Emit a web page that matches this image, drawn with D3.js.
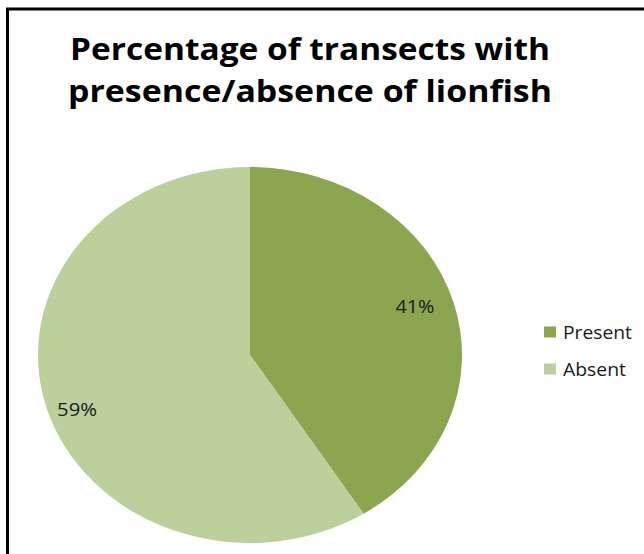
<!DOCTYPE html>
<html>
<head>
<meta charset="utf-8">
<script src="https://cdn.jsdelivr.net/npm/d3@7"></script>
<style>
  html, body { margin: 0; padding: 0; background: #fff; }
  svg { display: block; }
</style>
</head>
<body>
<svg id="chart" width="644" height="554"></svg>
<script>
// Lionfish survey: share of transects with lionfish present vs absent
const categories = ["Present", "Absent"];
const values = [41, 59];
const colors = ["#8aa64f", "#bbd09a"];
const titleLines = ["Percentage of transects with", "presence/absence of lionfish"];

const svg = d3.select("#chart");
const W = 644, H = 554;
const font = "'Open Sans', 'DejaVu Sans', sans-serif";

// Chart frame (top and left edges visible)
svg.append("path")
  .attr("d", `M7.5,${H} L7.5,9 L${W},9`)
  .attr("fill", "none")
  .attr("stroke", "#000")
  .attr("stroke-width", 3);

// Scale a text node horizontally so it spans a given width
function fitWidth(sel, width) {
  const len = sel.node().getComputedTextLength();
  const x = +sel.attr("x");
  const anchor = sel.attr("text-anchor") || "start";
  const k = width / len;
  const ox = anchor === "middle" ? x : x;
  sel.attr("transform", `translate(${ox},0) scale(${k},1) translate(${-ox},0)`);
}

// Title
titleLines.forEach((t, i) => {
  const tx = svg.append("text")
    .attr("x", 310)
    .attr("y", 60 + i * 42)
    .attr("text-anchor", "middle")
    .attr("font-family", font)
    .attr("font-weight", 700)
    .attr("font-size", 31)
    .attr("fill", "#000")
    .text(t);
  fitWidth(tx, i === 0 ? 480 : 484);
});

// Pie (elliptical: circle squashed vertically)
const cx = 250, cy = 355, rx = 212, ry = 188;
const pie = d3.pie().sort(null).value(d => d)(values);
const arc = d3.arc().innerRadius(0).outerRadius(rx);

const g = svg.append("g")
  .attr("transform", `translate(${cx},${cy}) scale(1,${ry / rx})`);

g.selectAll("path")
  .data(pie)
  .join("path")
  .attr("d", arc)
  .attr("fill", (d, i) => colors[i]);

// Percent labels
const labelArc = d3.arc().innerRadius(rx * 0.81).outerRadius(rx * 0.81);
const labelOffsets = [[0, -6], [-8, 11]];
const labelWidths = [39, 40];
svg.append("g")
  .selectAll("text")
  .data(pie)
  .join("text")
  .attr("x", (d, i) => cx + labelArc.centroid(d)[0] + labelOffsets[i][0])
  .attr("y", (d, i) => cy + labelArc.centroid(d)[1] * (ry / rx) + labelOffsets[i][1])
  .attr("text-anchor", "middle")
  .attr("dominant-baseline", "central")
  .attr("font-family", font)
  .attr("font-size", 18)
  .attr("fill", "#1a1a1a")
  .text((d, i) => values[i] + "%")
  .each(function (d, i) { fitWidth(d3.select(this), labelWidths[i]); });

// Legend
const legendWidths = [69, 63];
const legend = svg.append("g").attr("transform", "translate(544,332)");
const items = legend.selectAll("g")
  .data(categories)
  .join("g")
  .attr("transform", (d, i) => `translate(0,${i * 37})`);
items.append("rect")
  .attr("x", 0).attr("y", -5.5)
  .attr("width", 12).attr("height", 11)
  .attr("fill", (d, i) => colors[i]);
items.append("text")
  .attr("x", 19).attr("y", 0)
  .attr("dominant-baseline", "central")
  .attr("font-family", font)
  .attr("font-size", 18)
  .attr("fill", "#1a1a1a")
  .text(d => d)
  .each(function (d, i) { fitWidth(d3.select(this), legendWidths[i]); });
</script>
</body>
</html>
